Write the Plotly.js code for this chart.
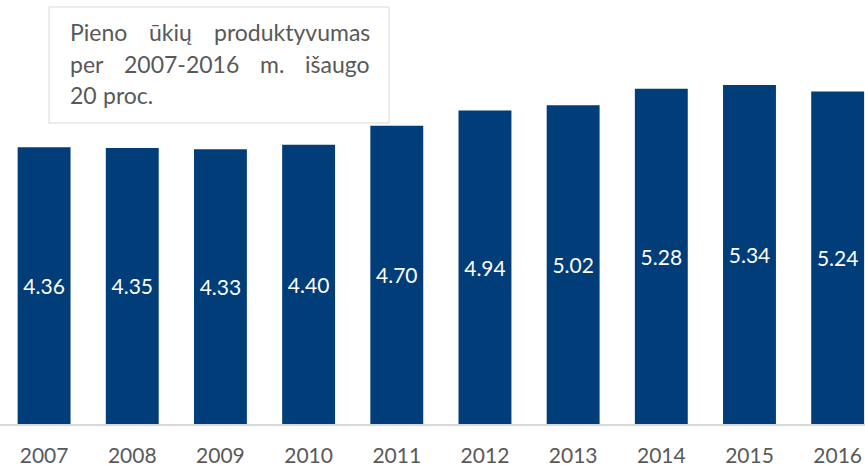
<!DOCTYPE html>
<html>
<head>
<meta charset="utf-8">
<script src="https://cdn.plot.ly/plotly-3.0.1.min.js"></script>
<style>html,body{margin:0;padding:0;background:#fff;}#chart{width:865px;height:465px;}</style>
</head>
<body>
<div id="chart"></div>
<script>
var years = ["2007","2008","2009","2010","2011","2012","2013","2014","2015","2016"];
var productivity = [4.36, 4.35, 4.33, 4.40, 4.70, 4.94, 5.02, 5.28, 5.34, 5.24];
var noteLines = ["Pieno ūkių produktyvumas", "per 2007-2016 m. išaugo", "20 proc."];

var W = 865, H = 465, plotH = 424;
var noteFont = 23, noteFamily = "Lato";
var noteLeft = 68, noteRight = 368;
var noteMid = [32, 64, 95];

var canvas = document.createElement("canvas");
var ctx = canvas.getContext("2d");
ctx.font = noteFont + "px " + noteFamily;

var annotations = [];
noteLines.forEach(function(line, li) {
  var words = line.split(" ");
  var justify = li < noteLines.length - 1;
  var widths = words.map(function(w){ return ctx.measureText(w).width; });
  var sum = widths.reduce(function(a,b){return a+b;}, 0);
  var gap = justify ? (noteRight - noteLeft - sum) / (words.length - 1) : ctx.measureText(" ").width;
  var x = noteLeft;
  words.forEach(function(w, wi) {
    annotations.push({
      xref: "paper", yref: "paper",
      x: x / W, y: 1 - noteMid[li] / plotH,
      xanchor: "left", yanchor: "middle",
      text: w, showarrow: false,
      font: {family: noteFamily, size: noteFont, color: "#595959"}
    });
    x += widths[wi] + gap;
  });
});

var trace = {
  type: "bar",
  x: years,
  y: productivity,
  text: productivity.map(function(v){ return v.toFixed(2); }),
  textposition: "inside",
  insidetextanchor: "middle",
  textangle: 0,
  constraintext: "none",
  textfont: {family: "Lato", size: 21, color: "#ffffff"},
  marker: {color: "#003D79"},
  hoverinfo: "none"
};

var layout = {
  width: W, height: H,
  margin: {l: 0, r: 0, t: 0, b: H - plotH},
  paper_bgcolor: "#ffffff",
  plot_bgcolor: "#ffffff",
  bargap: 0.4,
  showlegend: false,
  xaxis: {
    type: "category",
    range: [-0.5, 9.31],
    showline: true, linecolor: "#d9d9d9", linewidth: 2,
    ticks: "", showgrid: false, zeroline: false,
    ticklabelstandoff: 12,
    tickfont: {family: "Lato", size: 21, color: "#595959"},
    fixedrange: true
  },
  yaxis: {
    range: [0, 6.68],
    visible: false, showgrid: false, zeroline: false,
    fixedrange: true
  },
  shapes: [{
    type: "rect", xref: "paper", yref: "paper",
    x0: 49 / W, x1: 389 / W,
    y0: 1 - 123 / plotH, y1: 1 - 7 / plotH,
    line: {color: "#d9d9d9", width: 1},
    fillcolor: "#ffffff",
    layer: "above"
  }],
  annotations: annotations
};

Plotly.newPlot("chart", [trace], layout, {displayModeBar: false, staticPlot: true});
</script>
</body>
</html>
